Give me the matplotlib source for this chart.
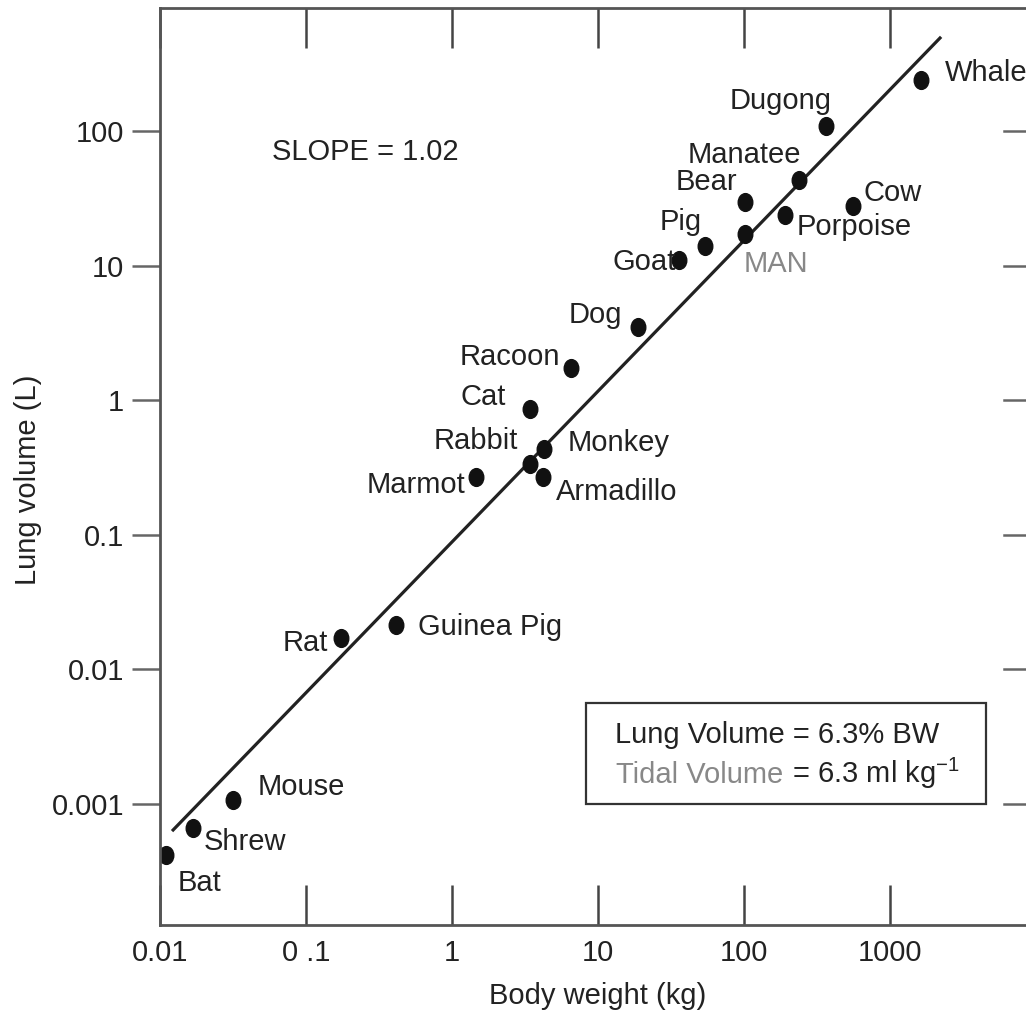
import numpy as np
import matplotlib
matplotlib.use("Agg")
import matplotlib.pyplot as plt
from matplotlib.path import Path
from matplotlib.patches import Rectangle

plt.rcParams['font.family'] = ['Liberation Sans', 'DejaVu Sans']
plt.rcParams['mathtext.default'] = 'regular'

# Data
animals = ['Bat', 'Shrew', 'Mouse', 'Rat', 'Guinea Pig', 'Marmot', 'Rabbit',
           'Monkey', 'Armadillo', 'Cat', 'Racoon', 'Dog', 'Goat', 'Pig', 'MAN',
           'Bear', 'Porpoise', 'Manatee', 'Dugong', 'Cow', 'Whale']
body_weight = [0.011, 0.0168, 0.0316, 0.174, 0.413, 1.46, 3.42,
               4.27, 4.2, 3.42, 6.53, 18.8, 35.9, 54, 101.6,
               101.6, 191, 238, 365, 558, 1630]
lung_volume = [0.00042, 0.00066, 0.00107, 0.0171, 0.0214, 0.269, 0.336,
               0.434, 0.269, 0.86, 1.73, 3.5, 11.0, 14.0, 17.2,
               29.7, 23.8, 43.3, 109, 27.7, 239]

fit_x = [0.0123, 2200]
fit_y = [0.00064, 491]

x_ticks = [0.01, 0.1, 1, 10, 100, 1000]
x_ticklabels = ['0.01', '0 .1', '1', '10', '100', '1000']
y_ticks = [0.001, 0.01, 0.1, 1, 10, 100]
y_ticklabels = ['0.001', '0.01', '0.1', '1', '10', '100']

# label placement (offset in pixels, horizontal alignment)
label_pos = {
    'Bat': (12, -28, 'left'), 'Shrew': (11, -14, 'left'),
    'Mouse': (25, 13, 'left'), 'Rat': (-13, -5, 'right'),
    'Guinea Pig': (22, -2, 'left'), 'Marmot': (-11, -8, 'right'),
    'Rabbit': (-12, 23, 'right'), 'Monkey': (24, 6, 'left'),
    'Armadillo': (13, -15, 'left'), 'Cat': (-24, 12, 'right'),
    'Racoon': (-11, 11, 'right'), 'Dog': (-16, 12, 'right'),
    'Goat': (-3, -2, 'right'), 'Pig': (-3, 24, 'right'),
    'MAN': (-1, -30, 'left'), 'Bear': (-8, 20, 'right'),
    'Porpoise': (12, -12, 'left'), 'Manatee': (2, 25, 'right'),
    'Dugong': (6, 25, 'right'), 'Cow': (10, 13, 'left'),
    'Whale': (24, 7, 'left'),
}

dark = '#222222'
gray = '#888888'
fs = 21

fig = plt.figure(figsize=(10.26, 10.13), dpi=100)
ax = fig.add_axes([160 / 1026, 88 / 1013, 876 / 1026, 917 / 1013])
ax.set_xscale('log')
ax.set_yscale('log')
ax.set_xlim(0.01, 0.01 * 10 ** (876 / 146))
ax.set_ylim(10 ** -3.9, 10 ** 2.914)

# egg shaped marker, a bit taller than wide
circ = Path.unit_circle()
ell = Path(circ.vertices * np.array([0.82, 1.0]), circ.codes)

ax.plot(fit_x, fit_y, color=dark, lw=2.3)
ax.plot(body_weight, lung_volume, linestyle='none', marker=ell,
        ms=12.8, color='#111111')

for name, x, y in zip(animals, body_weight, lung_volume):
    dx, dy, ha = label_pos[name]
    ax.annotate(name, (x, y), xytext=(dx * 0.72, dy * 0.72),
                textcoords='offset points', ha=ha, va='center',
                fontsize=fs, color=gray if name == 'MAN' else dark)

ax.text(0.128, 0.843, 'SLOPE = 1.02', transform=ax.transAxes,
        fontsize=fs, color=dark, va='center')

# formula box
ax.add_patch(Rectangle((0.486, 0.132), 0.457, 0.110, transform=ax.transAxes,
                       fill=False, ec='#333333', lw=1.6))
ax.text(0.519, 0.198, 'Lung Volume = 6.3% BW', transform=ax.transAxes,
        fontsize=fs, color=dark, va='baseline')
t1 = ax.text(0.521, 0.155, 'Tidal Volume', transform=ax.transAxes,
             fontsize=fs, color=gray, va='baseline')
fig.canvas.draw()
bb = t1.get_window_extent()
x_end = ax.transAxes.inverted().transform((bb.x1, bb.y0))[0]
ax.text(x_end, 0.155, ' = 6.3 ml kg$^{-1}$', transform=ax.transAxes,
        fontsize=fs, color=dark, va='baseline')

# axes styling
for s in ax.spines.values():
    s.set_color('#555555')
    s.set_linewidth(2)

ax.set_xticks(x_ticks)
ax.set_xticklabels(x_ticklabels)
ax.set_yticks(y_ticks)
ax.set_yticklabels(y_ticklabels)
ax.minorticks_off()
ax.tick_params(axis='x', which='major', direction='in', length=29, width=1.8,
               colors='#444444', labelcolor=dark, labelsize=fs, pad=10,
               top=True, bottom=True)
ax.tick_params(axis='y', which='major', direction='out', length=20, width=1.8,
               colors='#666666', labelcolor=dark, labelsize=fs, pad=6,
               left=True, right=False)
for y in y_ticks:
    ax.plot([1.0, 0.964], [y, y], transform=ax.get_yaxis_transform(),
            color='#666666', lw=1.8, clip_on=False)

ax.set_xlabel('Body weight (kg)', fontsize=fs, color=dark)
ax.set_ylabel('Lung volume (L)', fontsize=fs, color=dark)
ax.xaxis.set_label_coords(0.5, -0.062)
ax.yaxis.set_label_coords(-0.135, 0.485)

fig.savefig('out.png', dpi=100)
